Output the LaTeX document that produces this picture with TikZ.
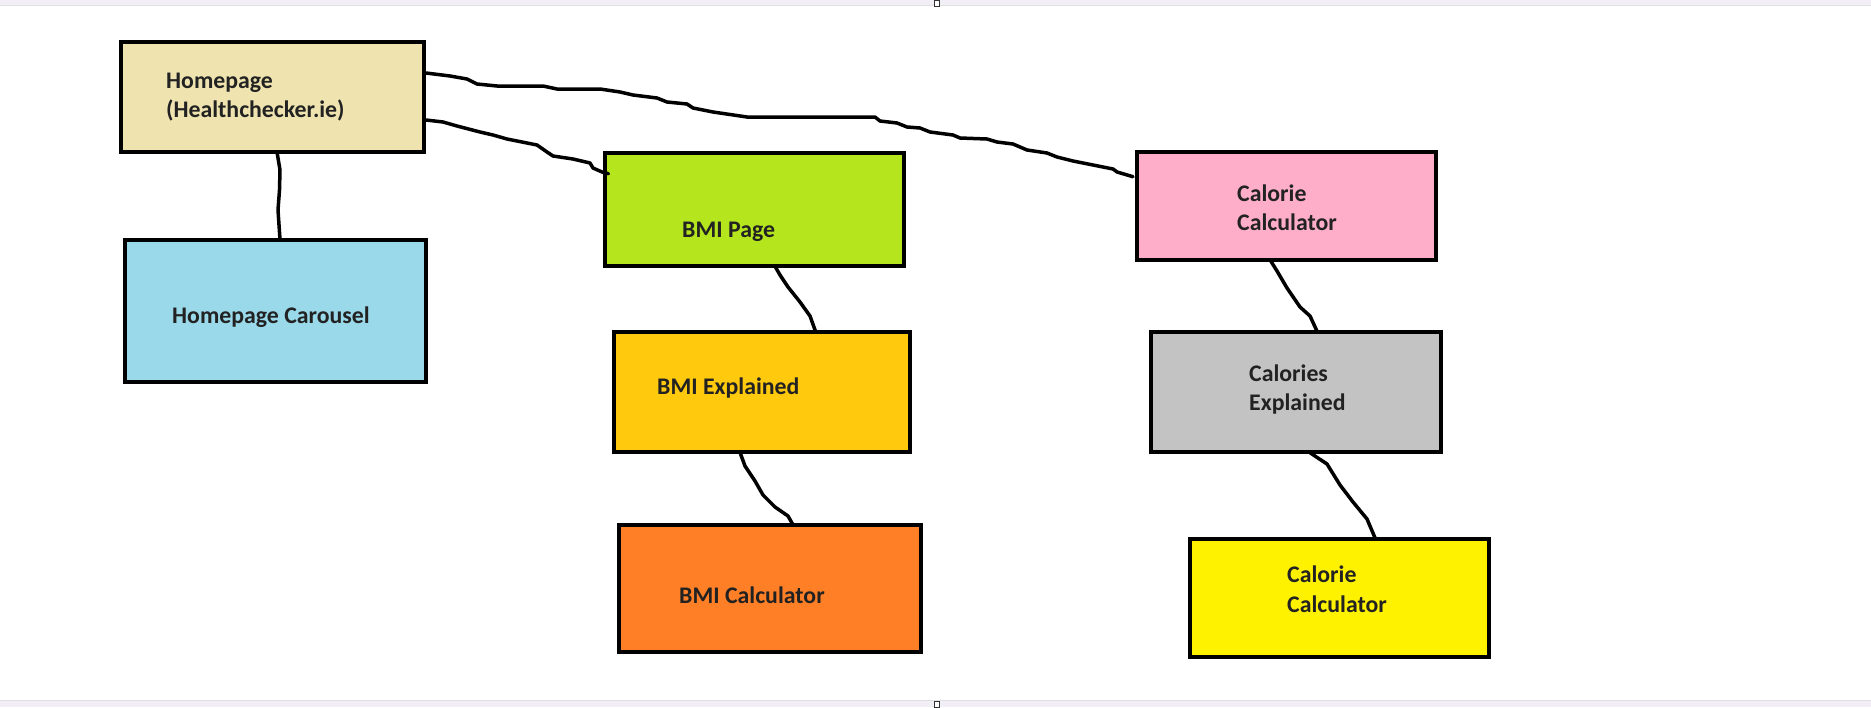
\documentclass[tikz,border=0pt]{standalone}
\usepackage{fontspec}
\setmainfont{Carlito}
\usetikzlibrary{calc}
\definecolor{homec}{HTML}{EFE4B0}
\definecolor{carc}{HTML}{99D9EA}
\definecolor{bmic}{HTML}{B5E61D}
\definecolor{explc}{HTML}{FFC90E}
\definecolor{calcc}{HTML}{FF7F27}
\definecolor{pinkc}{HTML}{FFAEC9}
\definecolor{grayc}{HTML}{C3C3C3}
\definecolor{yelc}{HTML}{FFF200}
\definecolor{txtc}{HTML}{222222}
\definecolor{bandc}{HTML}{F1EFF5}
\tikzset{
  pagebox/.style={draw=black, line width=4pt, rectangle, inner sep=0pt, outer sep=0pt, anchor=north west},
  lbl/.style={anchor=base west, inner sep=0pt, text=txtc, font=\fontsize{23.8}{29.3}\selectfont\bfseries},
  wire/.style={draw=black, line width=3.5pt, line join=round, line cap=round},
  handle/.style={draw=black!80, line width=0.8pt, fill=white, rectangle, inner sep=0pt, minimum width=5pt, minimum height=6pt}
}
\newcommand{\twolines}[2]{\begin{tabular}[t]{@{}l@{}}#1\\#2\end{tabular}}
\begin{document}
\begin{tikzpicture}[x=1pt,y=-1pt]
\useasboundingbox (0,0) rectangle (1871,707);
\fill[white] (0,0) rectangle (1871,707);
% window bands
\fill[bandc] (0,0) rectangle (1871,5);
\draw[black!12, line width=0.6pt] (0,5) -- (1871,5);
\fill[bandc] (0,700) rectangle (1871,707);
\draw[black!12, line width=0.6pt] (0,700) -- (1871,700);
\node[handle] (htop) at (937,3) {};
\node[handle] (hbot) at (937,704) {};

% boxes
\node[pagebox, fill=homec, minimum width=303pt, minimum height=110pt] (home) at (121,42) {};
\node[pagebox, fill=carc, minimum width=301pt, minimum height=142pt] (car) at (124.5,239.5) {};
\node[pagebox, fill=bmic, minimum width=299.5pt, minimum height=113.6pt] (bmi) at (604.5,152.7) {};
\node[pagebox, fill=explc, minimum width=296.5pt, minimum height=119.8pt] (bexp) at (613.7,331.8) {};
\node[pagebox, fill=calcc, minimum width=302pt, minimum height=126.7pt] (bcalc) at (619.3,525.4) {};
\node[pagebox, fill=pinkc, minimum width=299.3pt, minimum height=108.1pt] (cal) at (1137,151.7) {};
\node[pagebox, fill=grayc, minimum width=290pt, minimum height=119.8pt] (cexp) at (1151.3,331.8) {};
\node[pagebox, fill=yelc, minimum width=298.7pt, minimum height=118.1pt] (ccalc) at (1190.3,538.5) {};

% labels
\node[lbl] (thome) at (166,88) {\twolines{Homepage}{(Healthchecker.ie)}};
\node[lbl] (tcar) at (172,323) {Homepage Carousel};
\node[lbl] (tbmi) at (682,237.5) {BMI Page};
\node[lbl] (tbexp) at (657,394) {BMI Explained};
\node[lbl] (tbcalc) at (679,603) {BMI Calculator};
\node[lbl] (tcal) at (1237,201.3) {\twolines{Calorie}{Calculator}};
\node[lbl] (tcexp) at (1249,381.4) {\twolines{Calories}{Explained}};
\node[lbl] (tccalc) at (1287,582.9) {\twolines{Calorie}{Calculator}};

% connectors
\coordinate (h1) at ($(home.north east)+(2,31)$);
\coordinate (h2) at ($(home.north east)+(2,78)$);
\coordinate (c1) at ($(cal.north west)+(-4,25)$);
\coordinate (b1) at ($(bmi.north west)+(4,21)$);
\draw[wire] (h1) -- (450,76) -- (467,79) -- (477,84) -- (497,86) -- (543,86) -- (557,89)
  -- (600,89) -- (620,92) -- (633,95) -- (657,98) -- (667,102) -- (687,104) -- (693,108)
  -- (713,112) -- (747,117) -- (875,117) -- (880,121) -- (897,123) -- (907,127) -- (920,128)
  -- (930,132) -- (953,135) -- (960,138) -- (987,139) -- (997,142) -- (1013,144) -- (1027,150)
  -- (1047,153) -- (1057,157) -- (1073,161) -- (1093,165) -- (1113,169) -- (1117,172) -- (c1);
\draw[wire] (h2) -- (443,122) -- (457,126) -- (480,132) -- (493,135) -- (507,139) -- (537,145)
  -- (547,152) -- (553,156) -- (573,159) -- (590,163) -- (593,168) -- (602,172) -- (b1);
\draw[wire] ($(home.south west)+(156,0)$) -- (280,170) -- (279.5,190) -- (278,210) -- ($(car.north west)+(155.5,0)$);
\draw[wire] ($(bmi.south west)+(170.5,0)$) -- (780,275) -- (788,287) -- (800,302) -- (810,316) -- ($(bexp.north west)+(202,0)$);
\draw[wire] ($(bexp.south west)+(126,0)$) -- (745,466) -- (755,481) -- (763,495) -- (775,507) -- (788,516) -- ($(bcalc.north west)+(174,0)$);
\draw[wire] ($(cal.south west)+(133,0)$) -- (1277,271) -- (1287,288) -- (1300,307) -- (1310,316) -- ($(cexp.north west)+(166,0)$);
\draw[wire] ($(cexp.south west)+(157,0)$) -- (1327,464) -- (1340,485) -- (1353,502) -- (1367,519) -- ($(ccalc.north west)+(185,0)$);
\end{tikzpicture}
\end{document}
